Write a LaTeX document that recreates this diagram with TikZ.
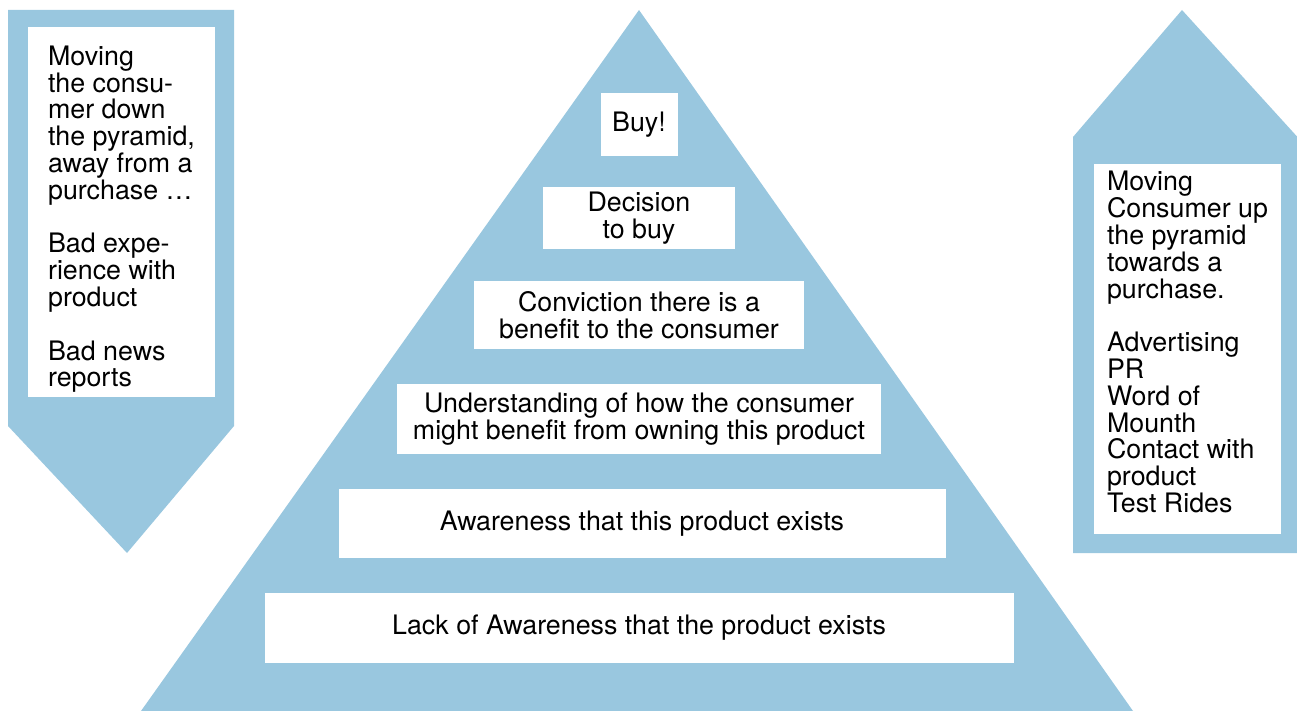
\documentclass[tikz,border=0pt]{standalone}
\usepackage{fontspec}
\setmainfont{TeX Gyre Heros}
\usetikzlibrary{positioning}
\definecolor{pyrblue}{RGB}{153,199,223}
\begin{document}
\begin{tikzpicture}[x=0.5pt,y=-0.5pt]
        \tikzstyle{band} = [fill=pyrblue]
        \tikzstyle{level} = [rectangle, fill=white, inner sep=0pt, outer sep=0pt, align=center, text centered, font=\fontsize{13.4}{13.4}\selectfont]
        \tikzstyle{sidebox} = [rectangle, fill=white, anchor=north west, align=left, inner sep=0pt, outer sep=0pt, minimum width=93.5pt, minimum height=185pt, font=\fontsize{13.4}{13.4}\selectfont]

        \useasboundingbox (0,0) rectangle (1297,711);

        % pyramid and the two side arrows
        \fill[band] (639,10) -- (1133,711) -- (141,711) -- cycle;
        \fill[band] (8,10) -- (234,10) -- (234,426) -- (127,553) -- (8,426) -- cycle;
        \fill[band] (1073,553) -- (1073,137) -- (1182,10) -- (1302,142) -- (1302,553) -- cycle;

        \node (buy) [level, minimum width=38.5pt, minimum height=31.5pt, anchor=north] at (639,93) {Buy!};
        \node (decide) [level, minimum width=96pt, minimum height=31pt, below=15.5pt of buy] {Decision\\to buy};
        \node (convince) [level, minimum width=165pt, minimum height=34pt, below=16pt of decide] {Conviction there is a\\benefit to the consumer};
        \node (understand) [level, minimum width=242pt, minimum height=35pt, below=17.5pt of convince] {Understanding of how the consumer\\might benefit from owning this product};
        \node (aware) [level, minimum width=303.5pt, minimum height=34.5pt, below=17.5pt of understand, xshift=1.5pt] {Awareness that this product exists};
        \node (unaware) [level, minimum width=374.5pt, minimum height=35pt, below=17.5pt of aware, xshift=-1.5pt] {Lack of Awareness that the product exists};

        \node (down) [sidebox] at (28,27) {\rule{0pt}{17pt}Moving\\the consu-\\mer down\\the pyramid,\\away from a\\purchase …\\[13.4pt]Bad expe-\\rience with\\product\\[13.4pt]Bad news\\reports};
        \node (up) [sidebox] at (1094,164) {Moving\\Consumer up\\the pyramid\\towards a\\purchase.\\[13.4pt]Advertising\\PR\\Word of\\Mounth\\Contact with\\product\\Test Rides\rule[-7pt]{0pt}{7pt}};
\end{tikzpicture}
\end{document}
